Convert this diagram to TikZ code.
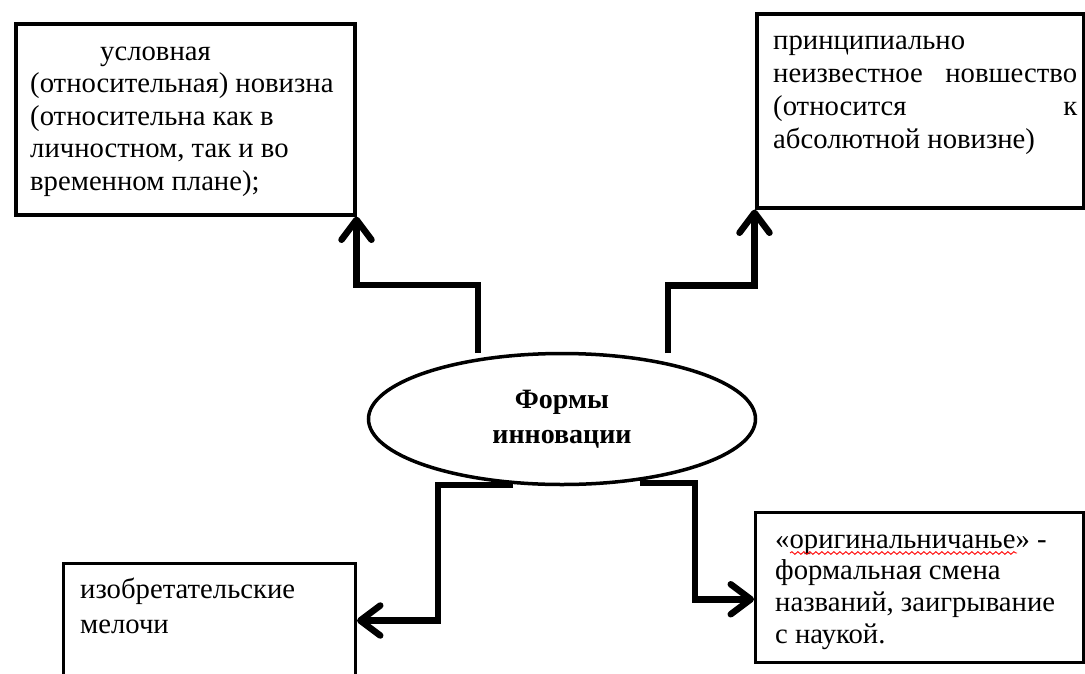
\documentclass[tikz,border=0pt]{standalone}
\usepackage{fontspec}
\setmainfont{Liberation Serif}
\usetikzlibrary{arrows.meta,shapes.geometric,decorations.pathmorphing}
\tikzset{
  box/.style={draw, line width=4pt, rectangle, inner sep=0pt, anchor=north west},
  thinbox/.style={box, line width=3pt},
  txt/.style={anchor=north west, inner sep=0pt, align=left},
  conn/.style={line width=6.5pt, line join=miter, -{Straight Barb[length=20pt,width=30pt,round]}},
  squiggle/.style={red, line width=0.9pt, decorate, decoration={snake, amplitude=1.3pt, segment length=6pt}}
}
\begin{document}
\begin{tikzpicture}[x=1pt,y=-1pt]
\useasboundingbox (0,0) rectangle (1085,673);
\fill[white] (0,0) rectangle (1085,673);
\clip (0,0) rectangle (1085,673);
% boxes
\node[box, minimum width=338.5pt, minimum height=191pt] (tl) at (14,21.5) {};
\node[box, minimum width=327pt, minimum height=193.5pt] (tr) at (754.5,12) {};
\node[thinbox, minimum width=292pt, minimum height=114pt] (bl) at (62,562) {};
\node[thinbox, minimum width=328pt, minimum height=150.5pt] (br) at (754,510.5) {};
% texts
\node[txt, font=\fontsize{28.7}{32.5}\selectfont] (t1) at (30,37.25)
  {\strut\hspace*{70pt}условная\\(относительная) новизна\\(относительна как в\\личностном, так и во\\временном плане);};
\node[txt, font=\fontsize{28.7}{33}\selectfont] (t2) at (773,25.9)
  {\strut принципиально\\\hbox to 304pt{неизвестное\hfill новшество}\\\hbox to 304pt{(относится\hfill к}\\абсолютной новизне)};
\node[txt, font=\fontsize{28.7}{35}\selectfont] (t3) at (80,573.5)
  {\strut изобретательские\\мелочи};
\node[txt, font=\fontsize{28.7}{31.7}\selectfont] (t4) at (775,525.8)
  {\strut «оригинальничанье» -\\формальная смена\\названий, заигрывание\\с наукой.};
\draw[squiggle] (790,553) -- (1017,553);
% ellipse
\node[ellipse, draw, line width=3.5pt, minimum width=387pt, minimum height=131pt, inner sep=0pt,
  align=center, font=\fontsize{28}{35}\selectfont\bfseries] (ell) at (562,419) {Формы\\инновации};
% connector start points on the ellipse
\coordinate (c1) at (478,353);
\coordinate (c2) at (668,353);
\coordinate (c3) at (513,485);
\coordinate (c4) at (640,483);
% connectors
\draw[conn] (c1) |- ([yshift=-68.5pt]tl.south east) -- (tl.south east);
\draw[conn] (c2) |- ([yshift=-76pt]tr.south west) -- (tr.south west);
\draw[conn] (c3) -| ([xshift=81pt]bl.east) -- (bl.east);
\draw[conn] (c4) -| ([xshift=-59pt,yshift=-12pt]br.west) -- ([yshift=-12pt]br.west);
\end{tikzpicture}
\end{document}
